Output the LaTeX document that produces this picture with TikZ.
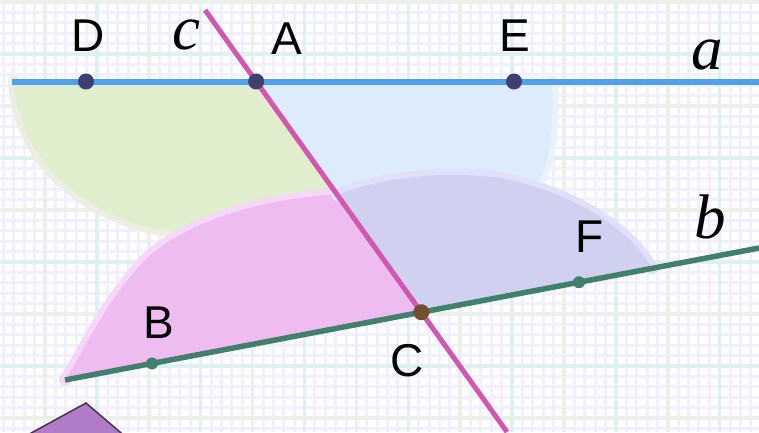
\documentclass[tikz,border=0pt]{standalone}
\usepackage{fontspec}
\setmainfont{Liberation Sans}
\newfontfamily\serifit{Liberation Serif}
\usetikzlibrary{calc,intersections}

\definecolor{gridfine}{RGB}{240,240,255}
\definecolor{gridgray}{RGB}{236,240,236}
\definecolor{gridteal}{RGB}{222,240,240}
\definecolor{fillgreen}{RGB}{224,238,206}
\definecolor{fillblue}{RGB}{220,236,252}
\definecolor{fillpink}{RGB}{238,188,240}
\definecolor{fillpurple}{RGB}{208,208,240}
\definecolor{halogreen}{RGB}{236,238,226}
\definecolor{haloblue}{RGB}{232,243,254}
\definecolor{halopink}{RGB}{244,216,246}
\definecolor{halopurple}{RGB}{224,224,250}
\definecolor{linea}{RGB}{80,160,236}
\definecolor{lineb}{RGB}{64,128,108}
\definecolor{linec}{RGB}{208,88,176}
\definecolor{dotnavy}{RGB}{64,64,112}
\definecolor{dotbrown}{RGB}{112,80,48}
\definecolor{diamondfill}{RGB}{176,124,200}
\definecolor{diamondedge}{RGB}{70,50,80}

\tikzset{
  finegrid/.style={draw=gridfine, line width=3pt},
  graygrid/.style={draw=gridgray, line width=3.5pt},
  tealgrid/.style={draw=gridteal, line width=3.5pt},
  halo/.style={line width=12pt, line cap=round},
  dot/.style={circle, inner sep=0pt, minimum size=16pt},
  markb/.style={circle, inner sep=0pt, minimum size=12pt, fill=lineb},
  lab/.style={inner sep=0pt, font=\fontsize{46}{50}\selectfont},
  ilab/.style={inner sep=0pt, font=\serifit\itshape\fontsize{63}{66}\selectfont},
}

\begin{document}
\begin{tikzpicture}[x=1pt,y=-1pt]
\useasboundingbox (0,0) rectangle (759,432);
\clip (0,0) rectangle (759,432);
\fill[white] (0,0) rectangle (759,432);

% grid
\foreach \k in {0,...,73} \draw[finegrid] ({3.5+10.38*\k},0) -- ({3.5+10.38*\k},432);
\foreach \k in {0,...,42} \draw[finegrid] (0,{2+10.4*\k}) -- (759,{2+10.4*\k});
\foreach \k in {4,14,...,64} \draw[graygrid] ({3.5+10.38*\k},0) -- ({3.5+10.38*\k},432);
\foreach \k in {9,19,...,69} \draw[tealgrid] ({3.5+10.38*\k},0) -- ({3.5+10.38*\k},432);
\foreach \k in {0,10,...,40} \draw[graygrid] (0,{2+10.4*\k}) -- (759,{2+10.4*\k});
\foreach \k in {5,15,...,35} \draw[tealgrid] (0,{2+10.4*\k}) -- (759,{2+10.4*\k});

% line end points
\coordinate (a1) at (12,81.5);
\coordinate (a2) at (759,81.5);
\coordinate (b1) at (65,380);
\coordinate (b2) at (759,248);
\coordinate (c1) at (205,10);
\coordinate (c2) at (507,432);
\path[name path=la] (a1) -- (a2);
\path[name path=lb] (b1) -- (b2);
\path[name path=lc] (c1) -- (c2);
\path[name intersections={of=la and lc, by=A}];
\path[name intersections={of=lb and lc, by=C}];
\coordinate (D) at (86,81.5);
\coordinate (E) at (514,81.5);
\coordinate (B) at ($(b1)!0.1254!(b2)$);
\coordinate (F) at ($(b1)!0.7406!(b2)$);
% region corner points on c and b
\coordinate (cg) at ($(c1)!0.4502!(c2)$);
\coordinate (cb) at ($(c1)!0.4929!(c2)$);
\coordinate (cp) at ($(c1)!0.4360!(c2)$);
\coordinate (cq) at ($(c1)!0.4384!(c2)$);
\coordinate (pf) at ($(b1)!0.8458!(b2)$);

% green region
\draw[halo, halogreen] (14,81.5) .. controls (20,150) and (60,195) .. (130,222) .. controls (190,243) and (270,230) .. (cg);
\fill[fillgreen] (A) -- (14,81.5) .. controls (20,150) and (60,195) .. (130,222) .. controls (190,243) and (270,230) .. (cg) -- cycle;
% blue region
\draw[halo, haloblue] (552,81.5) .. controls (554,130) and (550,165) .. (535,188);
\fill[fillblue] (A) -- (552,81.5) .. controls (554,130) and (550,165) .. (535,188) -- (cb) -- cycle;
% pink region
\draw[halo, halopink] (b1) .. controls (85,350) and (105,300) .. (150,255) .. controls (200,215) and (270,199) .. (cp);
\fill[fillpink] (C) -- (b1) .. controls (85,350) and (105,300) .. (150,255) .. controls (200,215) and (270,199) .. (cp) -- cycle;
% purple region
\draw[halo, halopurple] (cq) .. controls (380,178) and (440,170) .. (500,178) .. controls (565,190) and (628,225) .. (pf);
\fill[fillpurple] (C) -- (cq) .. controls (380,178) and (440,170) .. (500,178) .. controls (565,190) and (628,225) .. (pf) -- cycle;

% purple shape at bottom left
\filldraw[fill=diamondfill, draw=diamondedge, line width=1.5pt] (86,403) -- (124.1,435.5) -- (26.6,435.5) -- cycle;

% lines
\draw[linea, line width=6pt] (a1) -- (a2);
\draw[linec, line width=5pt] (c1) -- (c2);
\draw[lineb, line width=5.5pt] (b1) -- (b2);

% points
\node[dot, fill=dotnavy] (nD) at (D) {};
\node[dot, fill=dotnavy] (nA) at (A) {};
\node[dot, fill=dotnavy] (nE) at (E) {};
\node[dot, fill=dotbrown] (nC) at (C) {};
\node[markb] (nB) at (B) {};
\node[markb] (nF) at (F) {};

% labels
\node[lab] (lD) at (88.5,36) {D};
\node[lab] (lA) at (287,39) {A};
\node[lab] (lE) at (515,36) {E};
\node[lab] (lF) at (590,237) {F};
\node[lab] (lB) at (159,323) {B};
\node[lab] (lC) at (407,361) {C};
\node[ilab] (lla) at (707,55) {a};
\node[ilab] (llb) at (710,217) {b};
\node[ilab] (llc) at (186,35) {c};
\end{tikzpicture}
\end{document}
